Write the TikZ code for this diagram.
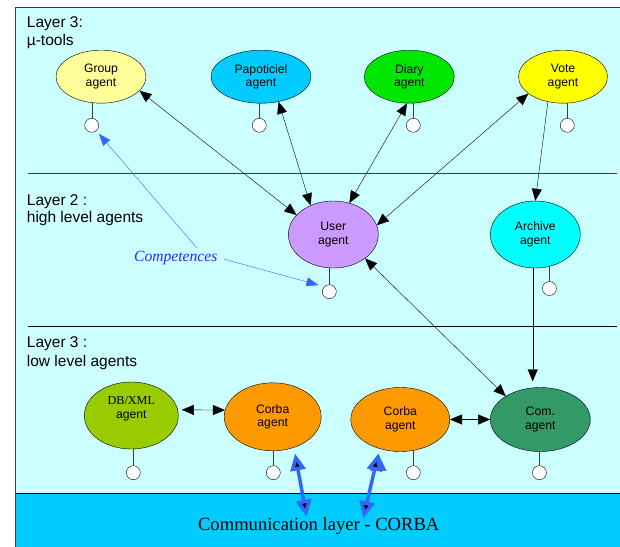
\documentclass[tikz,border=0pt]{standalone}
\usepackage{fontspec}
\setmainfont{Liberation Serif}
\setsansfont{Liberation Sans}
\usetikzlibrary{arrows.meta,shapes.geometric,positioning,backgrounds}

\definecolor{bgcyan}{RGB}{204,255,255}
\definecolor{bandcyan}{RGB}{0,204,255}
\definecolor{framegray}{RGB}{60,60,60}
\definecolor{groupyellow}{RGB}{255,255,153}
\definecolor{papoblue}{RGB}{0,204,255}
\definecolor{diarygreen}{RGB}{0,230,0}
\definecolor{voteyellow}{RGB}{255,255,0}
\definecolor{userviolet}{RGB}{204,153,255}
\definecolor{archivecyan}{RGB}{0,255,255}
\definecolor{dbgreen}{RGB}{153,204,0}
\definecolor{corbaorange}{RGB}{255,153,0}
\definecolor{comgreen}{RGB}{51,153,102}
\definecolor{compblue}{RGB}{51,102,255}
\definecolor{comptext}{RGB}{40,40,255}

\begin{document}
\begin{tikzpicture}[x=1pt,y=1pt,on grid,node distance=150pt,
    >={Triangle[length=12pt,width=10pt]}]
       \tikzstyle{agent}=[ellipse,draw,inner sep=0pt,minimum width=90pt,minimum height=53pt,
                          align=center,font=\sffamily\fontsize{12.2}{13.7}\selectfont]
       \tikzstyle{port}=[circle,draw,fill=white,inner sep=0pt,minimum size=14pt]
       \tikzstyle{layer}=[anchor=base west,inner sep=0pt,font=\sffamily\fontsize{15.5}{18}\selectfont]
       \tikzstyle{bus}=[draw=compblue,line width=3.5pt,{Triangle[length=17pt,width=15pt]}-{Triangle[length=17pt,width=15pt]}]
       \tikzstyle{pointer}=[draw=compblue,-{Triangle[length=12pt,width=9pt]}]

       \useasboundingbox (0,0) rectangle (620,-546);

       % layer 3: mu-tools
       \node[agent,fill=groupyellow]                   (group) at (101,-76.7)            {Group\\agent};
       \node[agent,fill=papoblue,minimum width=100pt]  (papo)  [right=160pt of group]    {Papoticiel\\agent};
       \node[agent,fill=diarygreen]                    (diary) [right=148.3pt of papo]   {Diary\\agent};
       \node[agent,fill=voteyellow,minimum width=89pt] (vote)  [right=153.7pt of diary]  {Vote\\agent};

       % layer 2: high level agents
       \node[agent,fill=userviolet,minimum height=67pt]  (user)    [below right=157.8pt and 72.3pt of papo] {User\\agent};
       \node[agent,fill=archivecyan,minimum height=67pt] (archive) [right=202pt of user]                    {Archive\\agent};

       % layer 3: low level agents
       \node[agent,fill=comgreen,minimum width=100pt,minimum height=64pt]  (com)     [below right=185pt and 5pt of archive]   {Com.\\agent};
       \node[agent,fill=corbaorange,minimum width=99pt,minimum height=64pt] (corba_2) [left=140pt of com]                     {Corba\\agent};
       \node[agent,fill=corbaorange,minimum width=97pt,minimum height=68pt] (corba_1) [above left=2.7pt and 127.6pt of corba_2] {Corba\\agent};
       \node[agent,fill=dbgreen,minimum width=94pt,minimum height=67pt]     (dbxml)   [above left=1.3pt and 141.4pt of corba_1] {{\rmfamily DB/XML}\\agent\\[3pt]};

       % competences
       \node[port] (p_group)   [below left=48.6pt and 9.3pt of group]    {};
       \node[port] (p_papo)    [below left=48.6pt and 1.7pt of papo]     {};
       \node[port] (p_diary)   [below right=48.6pt and 4pt of diary]     {};
       \node[port] (p_vote)    [below right=48.6pt and 4.3pt of vote]    {};
       \node[port] (p_user)    [below left=57.2pt and 4pt of user]       {};
       \node[port] (p_archive) [below right=54pt and 14.1pt of archive]  {};
       \node[port] (p_dbxml)   [below right=57.2pt and 2pt of dbxml]     {};
       \node[port] (p_corba_1) [below right=55.9pt and 0.6pt of corba_1] {};
       \node[port] (p_corba_2) [below right=53.2pt and 13pt of corba_2]  {};
       \node[port] (p_com)     [below left=53.2pt and 0.9pt of com]      {};

       % texts
       \node[layer] (l_3a) at (26.7,-27.2)  {Layer 3:};
       \node[layer] (l_3b) at (26.7,-45.5)  {µ-tools};
       \node[layer] (l_2a) at (26.7,-205.2) {Layer 2 :};
       \node[layer] (l_2b) at (26.7,-222.2) {high level agents};
       \node[layer] (l_1a) at (26.7,-347.2) {Layer 3 :};
       \node[layer] (l_1b) at (26.7,-366)   {low level agents};
       \node[text=comptext,font=\rmfamily\itshape\fontsize{15.6}{18}\selectfont] (comp) at (175.8,-258.3) {Competences};
       \node[font=\rmfamily\fontsize{18.6}{21}\selectfont] (comm) at (318.7,-525.7) {Communication layer - CORBA};
       \coordinate (bus_1) at (306.7,-516.7);
       \coordinate (bus_2) at (363.3,-518.3);

       \path[<->]
       (user.152) edge (group.-20)
       (user.128) edge (papo.-55)
       (user.63)  edge (diary.-95)
       (user.12)  edge (vote.-154)
       (user.-37) edge (com.146)
       (dbxml.7)  edge [shorten <=4pt] (corba_1.172)
       (corba_2.east) edge (com.west);

       \path[->]
       (vote.-121) edge (archive.north)
       ([xshift=-2.6pt]archive.south) edge [shorten >=6pt] ([xshift=-2.6pt]archive.south |- com.north);

       \path[bus]
       ([xshift=22.3pt,yshift=-2.5pt]corba_1.south) edge (bus_1)
       ([xshift=-22pt,yshift=-2pt]corba_2.south)    edge (bus_2);

       \draw[pointer,shorten >=4pt] ([xshift=-24pt]comp.north east) -- (p_group.-50);
       \draw[pointer,shorten <=3pt,shorten >=6pt] (comp.east) -- (p_user.135);

       \begin{scope}[on background layer]
         \draw[framegray,fill=bgcyan] (15,-7) rectangle (630,-560);
         \fill[bandcyan] (15,-493.3) rectangle (630,-560);
         \draw[black] (15,-493.3) -- (630,-493.3);
         \draw[framegray] (15,-7) -- (15,-560);
         \draw[framegray] (28,-173.3) -- (617,-173.3);
         \draw[black] (28,-326) -- (617,-326);
         \foreach \a in {group,papo,diary,vote,user,archive,dbxml,corba_1,corba_2,com}
           \draw[framegray] (p_\a.north) -- (p_\a |- \a.center);
       \end{scope}
\end{tikzpicture}
\end{document}
